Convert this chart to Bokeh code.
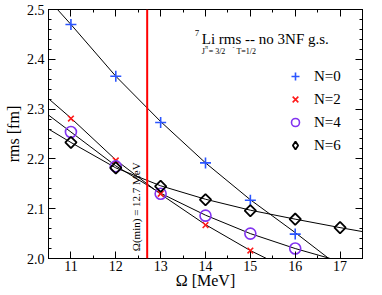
import numpy as np
from bokeh.plotting import figure
from bokeh.models import (FixedTicker, PrintfTickFormatter, LinearAxis, Span,
                          Legend, LegendItem, Range1d)
from bokeh.core.properties import value
from bokeh.embed import file_html
from bokeh.resources import INLINE

# ---- data ----
n0_x = [11, 12, 13, 14, 15, 16]
n0_y = [2.470, 2.366, 2.273, 2.192, 2.117, 2.049]
n2_x = [11, 12, 13, 14, 15]
n2_y = [2.281, 2.197, 2.130, 2.067, 2.016]
n4_x = [11, 12, 13, 14, 15, 16]
n4_y = [2.254, 2.185, 2.130, 2.086, 2.050, 2.020]
n6_x = [11, 12, 13, 14, 15, 16, 17]
n6_y = [2.233, 2.182, 2.145, 2.118, 2.096, 2.079, 2.062]

# fit curves
fit0_x = [10.70, 11.0, 12.0, 13.0, 14.0, 15.0, 16.0, 16.75]
fit0_y = [2.500, 2.470, 2.366, 2.275, 2.192, 2.118, 2.052, 2.000]
fit2_x = [10.50, 11.0, 12.0, 13.0, 14.0, 15.0, 15.36]
fit2_y = [2.321, 2.282, 2.198, 2.129, 2.068, 2.016, 2.000]
fit4_x = [10.50, 11.0, 12.0, 13.0, 14.0, 15.0, 16.0, 16.78]
fit4_y = [2.288, 2.254, 2.186, 2.131, 2.087, 2.050, 2.020, 2.000]
fit6_x = [10.50, 11.0, 12.0, 13.0, 14.0, 15.0, 16.0, 17.0, 17.50]
fit6_y = [2.260, 2.233, 2.182, 2.146, 2.119, 2.097, 2.079, 2.062, 2.054]

omega_min = 12.7
x_ticks = [11, 12, 13, 14, 15, 16, 17]
y_ticks = [2.0, 2.1, 2.2, 2.3, 2.4, 2.5]

FONT = "Liberation Serif"
BLUE = "#2b55ff"
RED = "#ff1a1a"
PURPLE = "#8233f0"

p = figure(width=382, height=295, output_backend="svg", toolbar_location=None,
           x_range=Range1d(10.5, 17.5), y_range=Range1d(2.0, 2.5),
           min_border_left=48, min_border_right=20, min_border_top=9,
           min_border_bottom=37)
p.grid.visible = False
p.outline_line_color = "black"
p.background_fill_color = "white"
p.border_fill_color = "white"

xt = FixedTicker(ticks=x_ticks, minor_ticks=list(np.arange(10.5, 17.51, 0.5)))
yt = FixedTicker(ticks=y_ticks, minor_ticks=list(np.round(np.arange(2.0, 2.501, 0.02), 3)))

def style_axis(ax, show_labels):
    ax.major_tick_in = 7
    ax.major_tick_out = 0
    ax.minor_tick_in = 3
    ax.minor_tick_out = 0
    ax.axis_line_color = "black"
    ax.major_label_text_font = FONT
    if show_labels:
        ax.major_label_text_font_size = "14px"
        ax.major_label_text_color = "black"
        ax.major_label_standoff = 3
    else:
        ax.major_label_text_font_size = "0px"
        ax.major_label_text_color = None
        ax.major_label_standoff = 0
    ax.axis_label_text_font = FONT
    ax.axis_label_text_font_style = "normal"
    ax.axis_label_text_font_size = "16px"
    ax.axis_label_text_color = "black"

p.xaxis.ticker = xt
p.yaxis.ticker = yt
p.xaxis.formatter = PrintfTickFormatter(format="%d")
p.yaxis.formatter = PrintfTickFormatter(format="%.1f")
p.xaxis.axis_label = "Ω [MeV]"
p.yaxis.axis_label = "rms [fm]"
style_axis(p.xaxis[0], True)
style_axis(p.yaxis[0], True)
p.xaxis.major_label_standoff = 2
p.xaxis.axis_label_standoff = -2
p.yaxis.axis_label_standoff = 2
p.yaxis.major_label_standoff = 4

top_ax = LinearAxis(ticker=xt)
right_ax = LinearAxis(ticker=yt)
style_axis(top_ax, False)
style_axis(right_ax, False)
p.add_layout(top_ax, "above")
p.add_layout(right_ax, "right")

# red vertical line
p.add_layout(Span(location=omega_min, dimension="height", line_color="red", line_width=2))

# fit lines
for fx, fy in [(fit0_x, fit0_y), (fit2_x, fit2_y), (fit4_x, fit4_y), (fit6_x, fit6_y)]:
    p.line(fx, fy, line_color="black", line_width=1)

r0 = p.scatter(n0_x, n0_y, marker="cross", size=11, line_color=BLUE, line_width=1.6)
r2 = p.scatter(n2_x, n2_y, marker="x", size=8, line_color=RED, line_width=1.6)
r4 = p.scatter(n4_x, n4_y, marker="circle", size=11, line_color=PURPLE,
               fill_color=None, line_width=1.6)
r6 = p.scatter(n6_x, n6_y, marker="square", size=8, angle=np.pi / 4,
               line_color="black", fill_color=None, line_width=1.8)
# legend swatch for N=6: same data as diamonds, hidden in the plot itself
r6_leg = p.scatter(n6_x, n6_y, marker="diamond", size=12, line_color="black",
                   fill_color=None, line_width=1.8, visible=False)

# rotated annotation
p.text(x=[12.444], y=[2.0146], text=["Ω(min) = 12.7 MeV"], angle=np.pi / 2,
       text_font=value(FONT), text_font_size="11px", text_align="left",
       text_baseline="middle", text_color="black")

# title texts
p.text(x=[13.81], y=[2.452], text=["7"], text_font=value(FONT), text_font_size="9px",
       text_align="center", text_baseline="middle", text_color="black")
p.text(x=[13.916], y=[2.440], text=["Li rms -- no 3NF g.s."], text_font=value(FONT),
       text_font_size="15px", text_align="left", text_baseline="middle",
       text_color="black")
p.text(x=[13.915, 13.99, 14.07, 14.60, 14.69], y=[2.416, 2.424, 2.416, 2.424, 2.416],
       text=["J", "π", "= 3/2", "-", "T=1/2"], text_font=value(FONT),
       text_font_size=["8px", "6px", "8px", "6px", "8px"], text_align="left",
       text_baseline="middle", text_color="black")

legend = Legend(items=[LegendItem(label="N=0", renderers=[r0]),
                       LegendItem(label="N=2", renderers=[r2]),
                       LegendItem(label="N=4", renderers=[r4]),
                       LegendItem(label="N=6", renderers=[r6_leg])],
                location=(237, 103), padding=0, margin=0, spacing=3,
                glyph_width=20, glyph_height=20, label_height=20,
                label_standoff=9, border_line_color=None,
                background_fill_alpha=0, inactive_fill_alpha=0,
                label_text_font=FONT, label_text_font_size="15px",
                label_text_color="black")
p.add_layout(legend, "center")

open("out.html", "w").write(file_html(p, INLINE))
